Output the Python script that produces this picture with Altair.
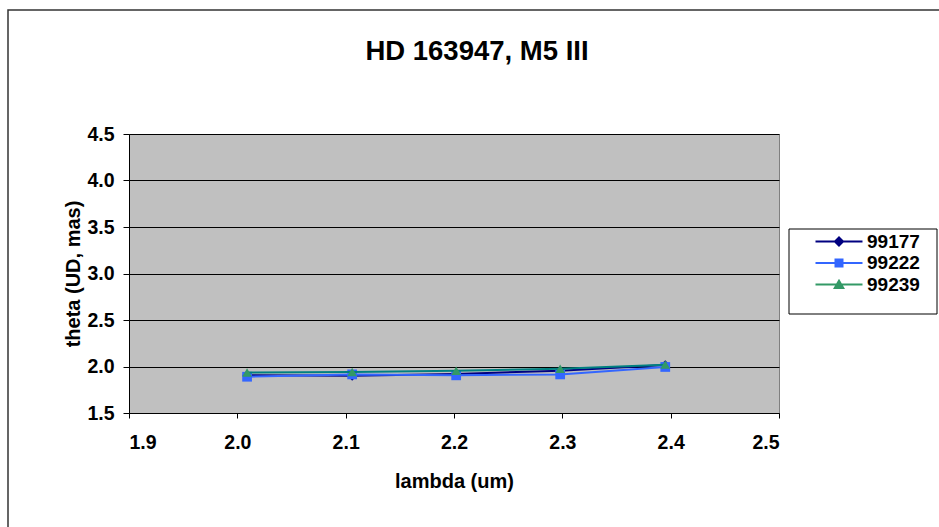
import altair as alt
import pandas as pd

# Wavelength (um) of each spectral channel
lam = [2.009, 2.106, 2.202, 2.298, 2.395]

# Uniform-disk diameters (mas) per observation night
series = ["99177", "99222", "99239"]
theta_99177 = [1.905, 1.900, 1.920, 1.955, 2.015]
theta_99222 = [1.890, 1.915, 1.905, 1.915, 1.995]
theta_99239 = [1.935, 1.940, 1.955, 1.975, 2.020]

line_colors = ["#000080", "#3366FF", "#008080"]
marker_colors = ["#000080", "#3366FF", "#339966"]
marker_shapes = ["diamond", "square", "triangle-up"]

x_ticks = [1.9, 2.0, 2.1, 2.2, 2.3, 2.4, 2.5]
y_ticks = [1.5, 2.0, 2.5, 3.0, 3.5, 4.0, 4.5]

chart_title = "HD 163947, M5 III"

FONT = "Liberation Sans"
W, H = 650, 279
PAD = {"left": 129, "top": 134, "right": 160, "bottom": 114}

rows = []
for name, vals in zip(series, [theta_99177, theta_99222, theta_99239]):
    for l, t in zip(lam, vals):
        rows.append({"series": name, "lam": l, "theta": t})
df = pd.DataFrame(rows)

# legend glyphs: a 47px line with the series marker at its middle.
# symbol size 144 -> 6px per path unit; the glyph is shifted left so the
# line starts at the entry's left edge.
U = 6.0
def px(v):
    return f"{v / U:.3f}"

def glyph_path(shape):
    x0, x1, cx = -6.0, 41.0, 17.5
    p = f"M{px(x0)},{px(-1)}H{px(x1)}V{px(1)}H{px(x0)}Z"
    if shape == "diamond":
        r = 5.5
        p += f"M{px(cx)},{px(-r)}L{px(cx + r)},0L{px(cx)},{px(r)}L{px(cx - r)},0Z"
    elif shape == "square":
        r = 4.5
        p += f"M{px(cx - r)},{px(-r)}H{px(cx + r)}V{px(r)}H{px(cx - r)}Z"
    else:
        p += f"M{px(cx)},{px(-5.8)}L{px(cx + 6)},{px(4.6)}H{px(cx - 6)}Z"
    return p

legend_paths = [glyph_path(s) for s in marker_shapes]

x_enc = alt.X(
    "lam:Q",
    scale=alt.Scale(domain=[1.9, 2.5], nice=False, zero=False),
    axis=alt.Axis(values=x_ticks, format=".1f", title="lambda (um)", grid=False,
                  tickSize=5, labelPadding=15, titlePadding=20),
)
y_enc = alt.Y(
    "theta:Q",
    scale=alt.Scale(domain=[1.5, 4.5], nice=False, zero=False),
    axis=alt.Axis(values=y_ticks, format=".1f", title="theta (UD, mas)", grid=True,
                  tickSize=6, labelPadding=9, titlePadding=3),
)
stroke_scale = alt.Scale(domain=series, range=line_colors)
fill_scale = alt.Scale(domain=series, range=marker_colors)

base = alt.Chart(df)
deco_src = alt.Chart(pd.DataFrame({"label": [chart_title]}))

# outer chart frame, chart title and legend box
frame = deco_src.mark_rect(fillOpacity=0, stroke="#333333", strokeWidth=1.5).encode(
    x=alt.value(-121), x2=alt.value(830), y=alt.value(-124), y2=alt.value(420)
)
title = deco_src.mark_text(font=FONT, fontSize=27.5, fontWeight="bold", color="black",
                           align="center", baseline="alphabetic").encode(
    x=alt.value(348), y=alt.value(-74), text="label:N"
)
legend_box = deco_src.mark_rect(fill="white", stroke="black", strokeWidth=1).encode(
    x=alt.value(660), x2=alt.value(808), y=alt.value(95), y2=alt.value(180)
)

legend_spec = dict(orient="none", legendX=683, legendY=98, title=None,
                   symbolSize=144, symbolStrokeWidth=0, padding=0,
                   labelFont=FONT, labelFontSize=19, labelFontWeight="bold",
                   labelColor="black", labelOffset=36, rowPadding=1.5)

# legend carrier: no rows, only supplies the legend entries
carrier = base.transform_filter("false").mark_point(filled=True, opacity=1).encode(
    x=x_enc, y=y_enc,
    fill=alt.Fill("series:N", scale=fill_scale, title=None, legend=alt.Legend(**legend_spec)),
    shape=alt.Shape("series:N", scale=alt.Scale(domain=series, range=legend_paths), title=None,
                    legend=alt.Legend(**legend_spec)),
)

layers = [frame, title, legend_box, carrier]
for name, shp in zip(series, marker_shapes):
    sub = base.transform_filter(alt.datum.series == name)
    layers.append(sub.mark_line(strokeWidth=2).encode(
        x=x_enc, y=y_enc,
        stroke=alt.Stroke("series:N", scale=stroke_scale, legend=None),
    ))
    layers.append(sub.mark_point(shape=shp, filled=True, size=95, opacity=1).encode(
        x=x_enc, y=y_enc,
        fill=alt.Fill("series:N", scale=fill_scale, legend=None),
    ))

chart = alt.layer(*layers).properties(
    width=W, height=H,
    autosize=alt.AutoSizeParams(type="none"),
    padding=PAD,
    background="white",
).configure_view(
    fill="#C0C0C0", stroke="#808080", strokeWidth=1,
).configure_axis(
    labelFont=FONT, labelFontSize=19.5, labelFontWeight="bold", labelColor="black",
    titleFont=FONT, titleFontSize=20, titleFontWeight="bold", titleColor="black",
    domainColor="black", tickColor="black", gridColor="black", gridOpacity=1,
    domainWidth=1, tickWidth=1, gridWidth=1,
)

chart.save("out.html", embed_options={"renderer": "svg", "actions": False})
